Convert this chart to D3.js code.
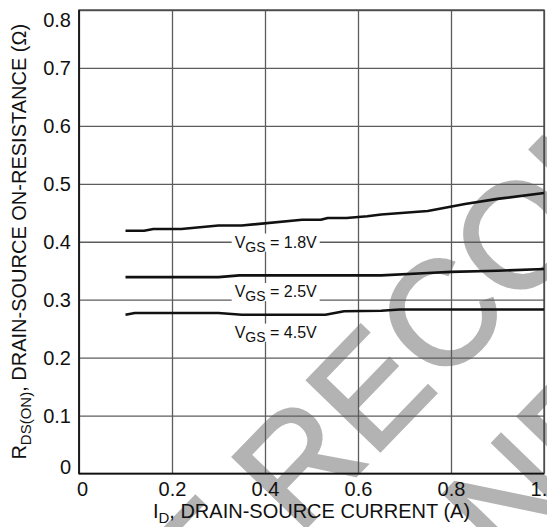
<!DOCTYPE html>
<html>
<head>
<meta charset="utf-8">
<script src="https://cdn.jsdelivr.net/npm/d3@7"></script>
<style>
  html, body { margin: 0; padding: 0; background: #fff; }
  svg { display: block; font-family: "Liberation Sans", Arial, Helvetica, sans-serif; }
</style>
</head>
<body>
<script>
// ---- data ----
const xTicks = [0, 0.2, 0.4, 0.6, 0.8, 1.0];
const xTickLabels = ["0", "0.2", "0.4", "0.6", "0.8", "1.0"];
const yTicks = [0, 0.1, 0.2, 0.3, 0.4, 0.5, 0.6, 0.7, 0.8];
const yTickLabels = ["0", "0.1", "0.2", "0.3", "0.4", "0.5", "0.6", "0.7", "0.8"];

const vgs18_I = [0.10, 0.14, 0.16, 0.22, 0.30, 0.35, 0.48, 0.52, 0.535, 0.575, 0.62, 0.65, 0.75, 0.83, 0.90, 1.0];
const vgs18_R = [0.419, 0.419, 0.422, 0.422, 0.428, 0.428, 0.438, 0.438, 0.441, 0.441, 0.444, 0.447, 0.453, 0.465, 0.474, 0.484];

const vgs25_I = [0.10, 0.30, 0.345, 0.65, 0.75, 0.80, 0.90, 1.0];
const vgs25_R = [0.339, 0.339, 0.342, 0.342, 0.346, 0.348, 0.350, 0.353];

const vgs45_I = [0.10, 0.12, 0.30, 0.35, 0.53, 0.57, 0.65, 0.69, 1.0];
const vgs45_R = [0.274, 0.277, 0.277, 0.274, 0.274, 0.280, 0.281, 0.283, 0.283];

const seriesNames = ["1.8V", "2.5V", "4.5V"];
const labelI = [0.423, 0.423, 0.423];      // label centre (data coords)
const labelR = [0.390, 0.3045, 0.2345];    // label baseline (data coords)

const xTitleMain = "I";
const xTitleSub = "D";
const xTitleRest = ", DRAIN-SOURCE CURRENT (A)";
const yTitleMain = "R";
const yTitleSub = "DS(ON)";
const yTitleRest = ", DRAIN-SOURCE ON-RESISTANCE (\u03A9)";
const watermark = ["NOT RECOMMENDED", "FOR NEW DESIGN"];

// ---- layout ----
const W = 547, H = 527;
const m = { left: 79, right: 3, top: 10, bottom: 53.5 };
const w = W - m.left - m.right, h = H - m.top - m.bottom;

const svg = d3.select("body").append("svg").attr("width", W).attr("height", H);

// watermark (behind everything)
const wm = svg.append("g").attr("fill", "#b3b3b3").attr("stroke", "#b3b3b3")
  .attr("stroke-width", 2.5).attr("stroke-linejoin", "miter").style("font-size", "148px");
const wmPos = [[590, 234], [717, 357]];
watermark.forEach((t, i) => {
  wm.append("text")
    .attr("transform", `translate(${wmPos[i][0]},${wmPos[i][1]}) rotate(-46)`)
    .attr("text-anchor", "middle")
    .text(t);
});

const x = d3.scaleLinear().domain([0, 1]).range([0, w]);
const y = d3.scaleLinear().domain([0, 0.8]).range([h, 0]);

const g = svg.append("g").attr("transform", `translate(${m.left},${m.top})`);

// grid + tick labels via axes
const xAxis = g.append("g").attr("transform", `translate(0,${h})`)
  .call(d3.axisBottom(x).tickValues(xTicks).tickFormat((d, i) => xTickLabels[i]).tickSize(-h).tickPadding(8.5));
const yAxis = g.append("g")
  .call(d3.axisLeft(y).tickValues(yTicks).tickFormat((d, i) => yTickLabels[i]).tickSize(-w).tickPadding(8));

[xAxis, yAxis].forEach(a => {
  a.select(".domain").remove();
  a.selectAll(".tick line").attr("stroke", "#5c5c5c").attr("stroke-width", 1.3);
  a.selectAll(".tick text").attr("fill", "#111").style("font-size", "20px")
    .style("font-family", "'Liberation Sans', Arial, sans-serif");
});
yAxis.selectAll(".tick text").attr("dy", (d, i) => (i === 0 ? "0em" : (i === yTicks.length - 1 ? "0.8em" : "0.35em")));
xAxis.selectAll(".tick text").attr("dx", (d, i) => (i === 0 ? 3 : 0));

// frame
g.append("rect").attr("x", 0).attr("y", 0).attr("width", w).attr("height", h)
  .attr("fill", "none").attr("stroke", "#444").attr("stroke-width", 1.3);
g.append("path").attr("d", `M0,0V${h}H${w}`).attr("fill", "none").attr("stroke", "#111").attr("stroke-width", 1.6);

// label masks
const labelGroup = g.append("g");
const series = [
  { I: vgs18_I, R: vgs18_R },
  { I: vgs25_I, R: vgs25_R },
  { I: vgs45_I, R: vgs45_R }
];
seriesNames.forEach((n, i) => {
  const cx = x(labelI[i]), by = y(labelR[i]);
  labelGroup.append("rect").attr("x", cx - 44).attr("y", by - 14).attr("width", 88).attr("height", 18).attr("fill", "#fff");
});

// curves
const line = d3.line().x(d => x(d[0])).y(d => y(d[1]));
series.forEach(s => {
  g.append("path").datum(s.I.map((v, k) => [v, s.R[k]]))
    .attr("d", line).attr("fill", "none").attr("stroke", "#111").attr("stroke-width", 2.6)
    .attr("stroke-linejoin", "round");
});

// labels
seriesNames.forEach((n, i) => {
  const t = labelGroup.append("text").attr("x", x(labelI[i])).attr("y", y(labelR[i]))
    .attr("text-anchor", "middle").attr("fill", "#111").style("font-size", "16px");
  t.append("tspan").text("V");
  t.append("tspan").attr("dy", 4).style("font-size", "14px").text("GS");
  t.append("tspan").attr("dy", -4).text(" = " + n);
});

// axis titles
const xt = svg.append("text").attr("x", m.left + w / 2).attr("y", 518)
  .attr("text-anchor", "middle").attr("fill", "#111").style("font-size", "20px");
xt.append("tspan").text(xTitleMain);
xt.append("tspan").attr("dy", 5).style("font-size", "15px").text(xTitleSub);
xt.append("tspan").attr("dy", -5).text(xTitleRest);

const yt = svg.append("text").attr("transform", `translate(26,${m.top + h / 2}) rotate(-90)`)
  .attr("text-anchor", "middle").attr("fill", "#111").style("font-size", "20px");
yt.append("tspan").text(yTitleMain);
yt.append("tspan").attr("dy", 5).style("font-size", "15px").text(yTitleSub);
yt.append("tspan").attr("dy", -5).text(yTitleRest);
</script>
</body>
</html>
